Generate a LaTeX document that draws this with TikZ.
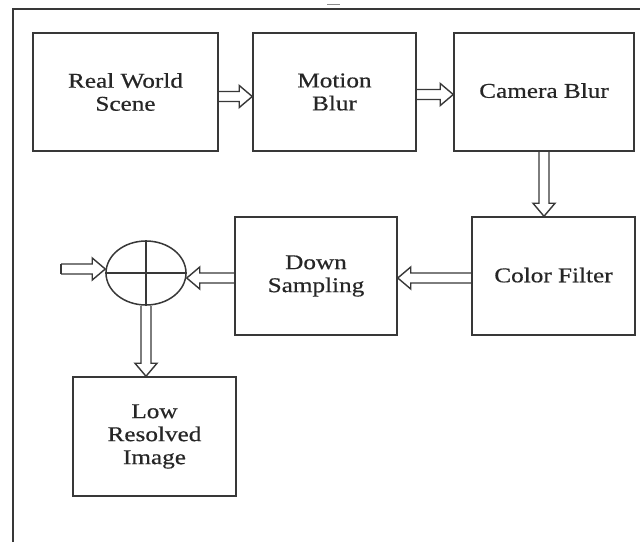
\documentclass[tikz,border=0pt]{standalone}
\usepackage{fontspec}
\setmainfont{Liberation Serif}[FakeStretch=1.2,FakeBold=0.5]
\usetikzlibrary{calc,shapes.geometric}
\tikzset{
  ln/.style={draw=black!78, line width=1.5pt},
  blockbox/.style={ln, rectangle, align=center, inner sep=0pt,
    font=\fontsize{21}{23}\selectfont, text=black!85},
  sumnode/.style={ln, ellipse, minimum width=80pt, minimum height=64pt, inner sep=0pt},
  harrow/.style={ln, line width=1.4pt, line join=miter}
}
\newcommand\hollowarrow[2]{%
  \draw[harrow] let \p1=(#1), \p2=(#2),
    \n1={atan2(\y2-\y1,\x2-\x1)}, \n2={veclen(\x2-\x1,\y2-\y1)-13pt} in
    ($(\p1)+(\n1+90:5pt)$) -- ($(\p1)+(\n1:\n2)+(\n1+90:5pt)$)
    -- ($(\p1)+(\n1:\n2)+(\n1+90:11pt)$) -- (\p2)
    -- ($(\p1)+(\n1:\n2)+(\n1-90:11pt)$) -- ($(\p1)+(\n1:\n2)+(\n1-90:5pt)$)
    -- ($(\p1)+(\n1-90:5pt)$);}
\begin{document}
\begin{tikzpicture}[x=1pt,y=-1pt]
\useasboundingbox[fill=white] (0,0) rectangle (640,542);
% frame
\draw[ln] (13,542) -- (13,9) -- (640,9);
\draw[black!45, line width=1.2pt] (327,4.5) -- (340,4.5);
% blocks
\node[blockbox, minimum width=185pt, minimum height=118pt] (rw) at (125.5,92) {Real World\\Scene};
\node[blockbox, minimum width=163pt, minimum height=118pt] (mb) at (334.5,92) {Motion\\Blur};
\node[blockbox, minimum width=180pt, minimum height=118pt] (cb) at (544,92) {\raisebox{3pt}{Camera Blur}};
\node[blockbox, minimum width=163pt, minimum height=118pt] (cf) at (553.5,276) {\raisebox{2pt}{Color Filter}};
\node[blockbox, minimum width=162pt, minimum height=118pt] (ds) at (316,276) {Down\\Sampling};
\node[blockbox, minimum width=163pt, minimum height=119pt] (lr) at (154.5,436.5) {Low\\Resolved\\Image};
\node[sumnode] (sum) at (146,273) {};
\draw[ln] (sum.north) -- (sum.south) (sum.west) -- (sum.east);
\coordinate (in) at (61,269);
\coordinate (dsin) at ($(sum.east)+(0,5)$);
% arrows
\hollowarrow{$(rw.east)+(0,4.5)$}{$(mb.west)+(0,4.5)$}
\hollowarrow{$(mb.east)+(0,2.5)$}{$(cb.west)+(0,2.5)$}
\hollowarrow{cb.south}{cb.south |- cf.north}
\hollowarrow{$(cf.west)+(0,2)$}{$(ds.east)+(0,2)$}
\hollowarrow{ds.west |- dsin}{dsin}
\hollowarrow{in}{$(sum.west)+(0,-4)$}
\draw[harrow] ($(in)+(0,-5)$) -- ($(in)+(0,5)$);
\hollowarrow{sum.south}{sum.south |- lr.north}
\end{tikzpicture}
\end{document}
